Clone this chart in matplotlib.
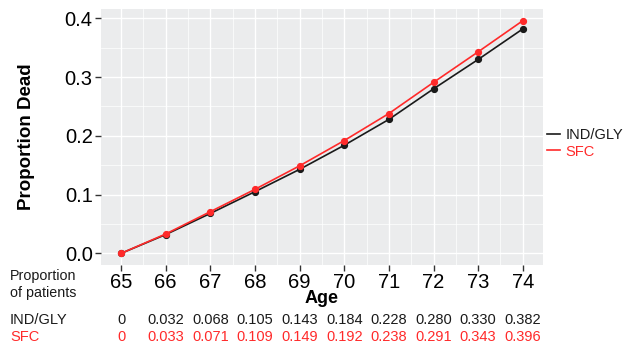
import numpy as np
import matplotlib.pyplot as plt
from matplotlib.ticker import MultipleLocator

plt.rcParams['font.family'] = ['Liberation Sans', 'DejaVu Sans']

# data
ages = [65, 66, 67, 68, 69, 70, 71, 72, 73, 74]
ind_gly = [0, 0.032, 0.068, 0.105, 0.143, 0.184, 0.228, 0.280, 0.330, 0.382]
sfc = [0, 0.033, 0.071, 0.109, 0.149, 0.192, 0.238, 0.291, 0.343, 0.396]
series_names = ['IND/GLY', 'SFC']
series_colors = ['#1a1a1a', '#ff2a2a']

fig = plt.figure(figsize=(6.25, 3.48), dpi=100)
ax = fig.add_axes([0.1616, 0.2385, 0.707, 0.7355])
ax.set_facecolor('#EBECED')

for vals, name, col in zip([ind_gly, sfc], series_names, series_colors):
    ax.plot(ages, vals, color=col, lw=1.2, marker='o', ms=4.2, label=name)

ax.set_xlim(64.55, 74.45)
ax.set_ylim(-0.0198, 0.4158)
ax.xaxis.set_major_locator(MultipleLocator(1))
ax.xaxis.set_minor_locator(MultipleLocator(0.5))
ax.yaxis.set_major_locator(MultipleLocator(0.1))
ax.yaxis.set_minor_locator(MultipleLocator(0.05))
ax.set_yticks([0, 0.1, 0.2, 0.3, 0.4])
ax.set_yticklabels(['0.0', '0.1', '0.2', '0.3', '0.4'])
ax.grid(which='major', color='white', lw=1.0)
ax.grid(which='minor', color='white', lw=0.5)
ax.set_axisbelow(True)
for s in ax.spines.values():
    s.set_visible(False)
ax.tick_params(which='major', length=4, width=1, color='#333333', labelsize=14.5, pad=2)
ax.tick_params(axis='x', pad=1.5)
ax.tick_params(which='minor', length=0)

ax.set_ylabel('Proportion Dead', fontsize=13.5, fontweight='bold')
ax.yaxis.set_label_coords(-0.15, 0.5)
ax.set_xlabel('Age', fontsize=13, fontweight='bold')
ax.xaxis.set_label_coords(0.5, -0.098)

leg = ax.legend(loc='center left', bbox_to_anchor=(1.0, 0.475), frameon=False,
                fontsize=10.5, handlelength=0.9, handletextpad=0.35,
                labelspacing=0.15, borderaxespad=0.1, borderpad=0.2)
for h in leg.legend_handles:
    h.set_marker('')
for t, col in zip(leg.get_texts(), series_colors):
    t.set_color(col)

# table of proportions below the axis
fig.text(10 / 625, 1 - 284.5 / 348, 'Proportion\nof patients', fontsize=10.3,
         va='center', ha='left', linespacing=1.2, color='#1a1a1a')
row_y = [1 - 320 / 348, 1 - 337 / 348]
for vals, name, col, yy in zip([ind_gly, sfc], series_names, series_colors, row_y):
    fig.text(10 / 625, yy, name, fontsize=10.5, color=col, va='center', ha='left')
    for a, v in zip(ages, vals):
        lab = '0' if v == 0 else f'{v:.3f}'
        xf = fig.transFigure.inverted().transform(ax.transData.transform((a, 0)))[0]
        fig.text(xf, yy, lab, fontsize=10.5, color=col, va='center', ha='center')

fig.savefig('out.png', dpi=100)
